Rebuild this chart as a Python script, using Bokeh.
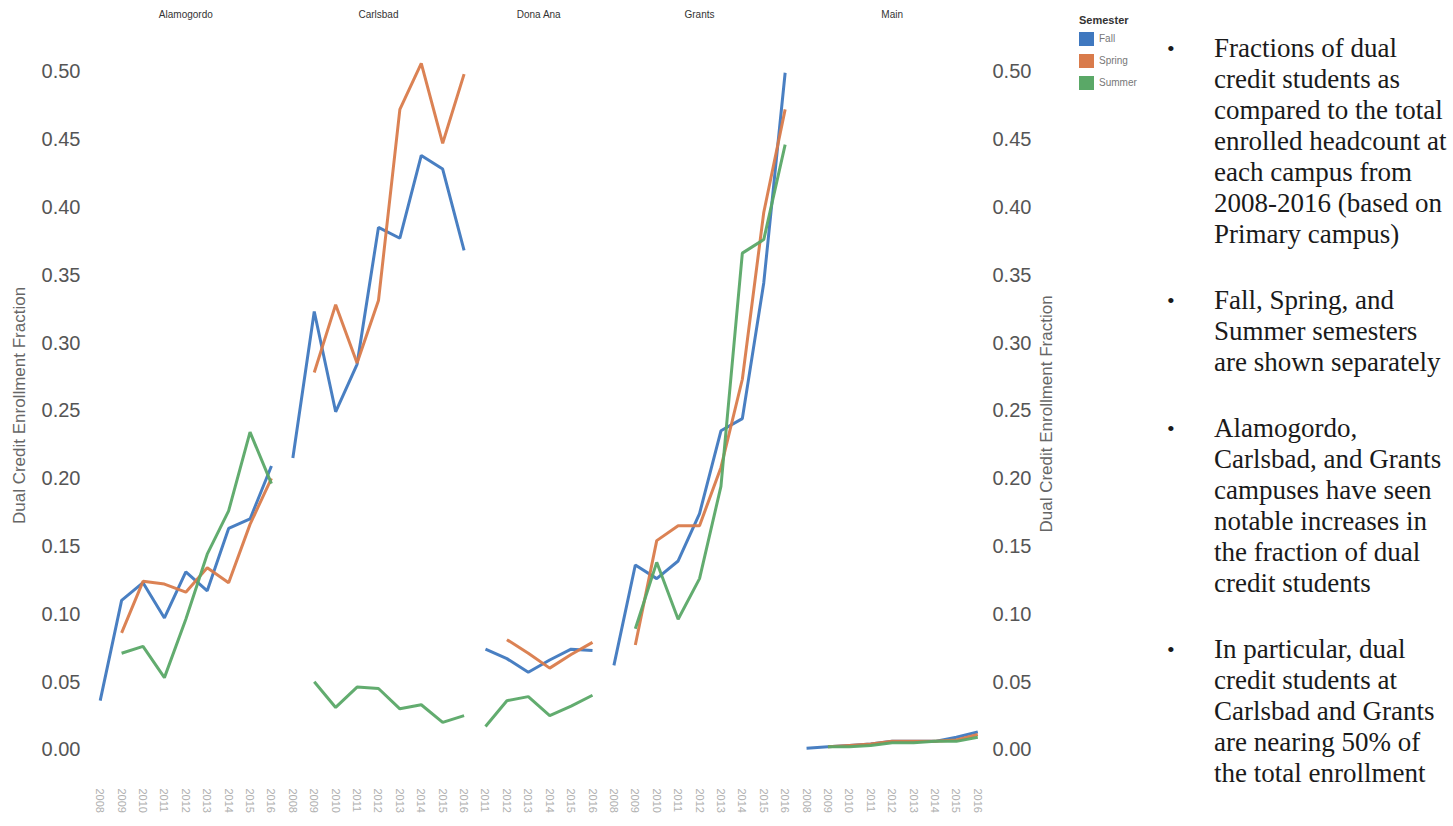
import math
from bokeh.plotting import figure
from bokeh.models import (FactorRange, Range1d, LinearAxis, CategoricalAxis,
                          Div, FixedTicker, NumeralTickFormatter, Label)
from bokeh.layouts import row
from bokeh.embed import file_html
from bokeh.resources import INLINE

# ---------------- data ----------------
campuses = ["Alamogordo", "Carlsbad", "Dona Ana", "Grants", "Main"]
years_alamogordo = ["2008", "2009", "2010", "2011", "2012", "2013", "2014", "2015", "2016"]
years_carlsbad = ["2008", "2009", "2010", "2011", "2012", "2013", "2014", "2015", "2016"]
years_dona_ana = ["2011", "2012", "2013", "2014", "2015", "2016"]
years_grants = ["2008", "2009", "2010", "2011", "2012", "2013", "2014", "2015", "2016"]
years_main = ["2008", "2009", "2010", "2011", "2012", "2013", "2014", "2015", "2016"]
campus_years = [years_alamogordo, years_carlsbad, years_dona_ana, years_grants, years_main]

semesters = ["Fall", "Spring", "Summer"]
colors = ["#3f78bf", "#d97b4b", "#5aa867"]

# values end in 2016; each series starts where its first value sits
fall_alamogordo = [0.036, 0.110, 0.123, 0.097, 0.131, 0.117, 0.163, 0.170, 0.209]
fall_carlsbad = [0.215, 0.323, 0.249, 0.284, 0.385, 0.377, 0.438, 0.428, 0.368]
fall_dona_ana = [0.074, 0.067, 0.057, 0.066, 0.074, 0.073]
fall_grants = [0.062, 0.136, 0.126, 0.139, 0.174, 0.235, 0.244, 0.344, 0.499]
fall_main = [0.001, 0.002, 0.003, 0.004, 0.006, 0.006, 0.006, 0.009, 0.013]

spring_alamogordo = [0.086, 0.124, 0.122, 0.116, 0.134, 0.123, 0.166, 0.200]
spring_carlsbad = [0.278, 0.328, 0.285, 0.331, 0.472, 0.506, 0.447, 0.498]
spring_dona_ana = [0.081, 0.071, 0.060, 0.070, 0.079]
spring_grants = [0.077, 0.154, 0.165, 0.165, 0.208, 0.273, 0.396, 0.472]
spring_main = [0.002, 0.003, 0.004, 0.006, 0.006, 0.006, 0.007, 0.011]

summer_alamogordo = [0.071, 0.076, 0.053, 0.096, 0.144, 0.176, 0.234, 0.196]
summer_carlsbad = [0.050, 0.031, 0.046, 0.045, 0.030, 0.033, 0.020, 0.025]
summer_dona_ana = [0.017, 0.036, 0.039, 0.025, 0.032, 0.040]
summer_grants = [0.089, 0.138, 0.096, 0.126, 0.194, 0.366, 0.376, 0.446]
summer_main = [0.002, 0.002, 0.003, 0.005, 0.005, 0.006, 0.006, 0.009]

series = {
    "Fall": [fall_alamogordo, fall_carlsbad, fall_dona_ana, fall_grants, fall_main],
    "Spring": [spring_alamogordo, spring_carlsbad, spring_dona_ana, spring_grants, spring_main],
    "Summer": [summer_alamogordo, summer_carlsbad, summer_dona_ana, summer_grants, summer_main],
}

y_ticks = [0.00, 0.05, 0.10, 0.15, 0.20, 0.25, 0.30, 0.35, 0.40, 0.45, 0.50]
y_title = "Dual Credit Enrollment Fraction"
legend_title = "Semester"

bullets = [
    ["Fractions of dual", "credit students as", "compared to the total",
     "enrolled headcount at", "each campus from", "2008-2016 (based on", "Primary campus)"],
    ["Fall, Spring, and", "Summer semesters", "are shown separately"],
    ["Alamogordo,", "Carlsbad, and Grants", "campuses have seen", "notable increases in",
     "the fraction of dual", "credit students"],
    ["In particular, dual", "credit students at", "Carlsbad and Grants",
     "are nearing 50% of", "the total enrollment"],
]

# ---------------- main figure ----------------
factors = [(c, y) for c, ys in zip(campuses, campus_years) for y in ys]

p = figure(
    title=None,
    x_range=FactorRange(*factors, factor_padding=0, group_padding=0, subgroup_padding=0),
    y_range=Range1d(-0.0177, 0.525),
    frame_width=899, frame_height=736,
    min_border_left=89, min_border_right=44, min_border_top=37, min_border_bottom=42,
    output_backend="svg", toolbar_location=None,
    background_fill_color="white", border_fill_color="white",
)
p.outline_line_color = None
p.grid.visible = False

for sem, col in zip(semesters, colors):
    for camp, ys, vals in zip(campuses, campus_years, series[sem]):
        xs = [(camp, y) for y in ys[len(ys) - len(vals):]]
        p.line(x=xs, y=vals, line_color=col, line_width=3, line_alpha=0.95)

def no_ticks(ax):
    ax.axis_line_color = None
    ax.major_tick_line_color = None
    ax.minor_tick_line_color = None
    ax.major_tick_out = 0
    ax.major_tick_in = 0
    ax.minor_tick_out = 0
    ax.minor_tick_in = 0

def style_y(ax, standoff):
    no_ticks(ax)
    ax.ticker = FixedTicker(ticks=y_ticks)
    ax.formatter = NumeralTickFormatter(format="0.00")
    ax.major_label_text_font = "Liberation Sans"
    ax.major_label_text_font_size = "20px"
    ax.major_label_text_color = "#555555"
    ax.major_label_standoff = standoff

ly = p.yaxis[0]
style_y(ly, 9)
ly.axis_label = y_title
ly.axis_label_text_font = "Liberation Sans"
ly.axis_label_text_font_size = "17px"
ly.axis_label_text_color = "#666666"
ly.axis_label_text_font_style = "normal"
ly.axis_label_standoff = 10

ry = LinearAxis()
style_y(ry, 4)
p.add_layout(ry, "right")

# bottom axis: years only
bx = p.xaxis[0]
no_ticks(bx)
bx.separator_line_alpha = 0
bx.major_label_orientation = "vertical"
bx.major_label_text_font = "Liberation Sans"
bx.major_label_text_font_size = "11px"
bx.major_label_text_color = "#b0b0b0"
bx.major_label_standoff = 15
bx.group_text_font_size = "1px"
bx.group_text_alpha = 0

# top axis: campus names only
tx = CategoricalAxis()
no_ticks(tx)
tx.separator_line_alpha = 0
tx.major_label_text_font_size = "1px"
tx.major_label_text_alpha = 0
tx.major_label_standoff = 18
tx.group_text_font = "Liberation Sans"
tx.group_text_font_size = "10px"
tx.group_text_color = "#333333"
tx.group_text_font_style = "normal"
p.add_layout(tx, "above")

# ---------------- right axis title (reads bottom to top) ----------------
tf = figure(title=None, width=36, height=810, x_range=Range1d(0, 1), y_range=Range1d(0, 1),
            x_axis_location=None, y_axis_location=None, min_border=0,
            output_backend="svg", toolbar_location=None,
            background_fill_color="white", border_fill_color="white")
tf.outline_line_color = None
tf.grid.visible = False
tf.add_layout(Label(x=0.33, y=0.485, text=y_title, angle=math.pi / 2,
                    text_align="center", text_baseline="middle",
                    text_font="Liberation Sans", text_font_size="17px",
                    text_color="#666666"))

# ---------------- legend ----------------
leg_rows = "".join(
    '<div style="display:flex;align-items:center;height:22px">'
    '<span style="display:inline-block;width:15px;height:14px;background:%s;margin-right:5px"></span>'
    '<span style="font-size:10px;color:#777777">%s</span></div>' % (c, s)
    for s, c in zip(semesters, colors)
)
leg_html = ('<div style="font-family:\'Liberation Sans\';padding-top:13px;padding-left:9px">'
            '<div style="font-size:11px;line-height:14px;font-weight:bold;color:#333333;'
            'margin-bottom:1px">%s</div>%s</div>' % (legend_title, leg_rows))
legend_div = Div(text=leg_html, width=96, height=810, margin=0)

# ---------------- bullet text ----------------
paras = []
for i, lines in enumerate(bullets):
    mb = "0px" if i == len(bullets) - 1 else "35px"
    paras.append(
        '<div style="position:relative;padding-left:48px;margin-bottom:%s">'
        '<span style="position:absolute;left:1px;top:0;font-size:22px">&#8226;</span>%s</div>'
        % (mb, "<br>".join(lines))
    )
html = ('<div style="font-family:\'Liberation Serif\';font-size:27px;line-height:31px;'
        'color:#1a1a1a;padding-top:33px;white-space:nowrap">' + "".join(paras) + "</div>")
div = Div(text=html, width=277, height=810, margin=0)

layout = row(p, tf, legend_div, div)
open("out.html", "w").write(file_html(layout, INLINE))
